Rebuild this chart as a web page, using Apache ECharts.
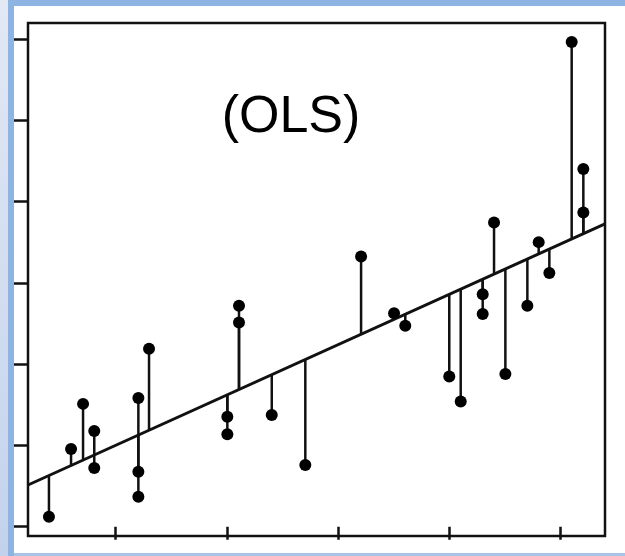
<!DOCTYPE html>
<html>
<head>
<meta charset="utf-8">
<script src="https://cdn.jsdelivr.net/npm/echarts@6/dist/echarts.min.js"></script>
<style>
html,body{margin:0;padding:0;background:#fff;}
#chart{width:625px;height:556px;}
</style>
</head>
<body>
<div id="chart"></div>
<script>
// ---- data (arbitrary units, no tick labels shown) ----
const titleText = '(OLS)';
const xTicks = [1, 2, 3, 4, 5];
const yTicks = [0, 1, 2, 3, 4, 5, 6];
const xRange = [0.2104, 5.405];
const yRange = [-0.1145, 6.197];
const pointX = [0.399, 0.598, 0.706, 0.807, 0.807, 1.204, 1.204, 1.204, 1.300,
                2.005, 2.005, 2.110, 2.110, 2.405, 2.707, 3.209, 3.506, 3.607,
                4.003, 4.106, 4.304, 4.304, 4.406, 4.508, 4.706, 4.808, 4.904,
                5.105, 5.210, 5.210];
const pointY = [0.123, 0.956, 1.511, 1.178, 0.723, 1.584, 0.677, 0.369, 2.188,
                1.354, 1.137, 2.717, 2.511, 1.375, 0.760, 3.324, 2.627, 2.471,
                1.847, 1.539, 2.861, 2.618, 3.742, 1.880, 2.717, 3.501, 3.120,
                5.963, 4.400, 3.866];
const fitX = [0.2104, 5.405];
const fitY = [0.513, 3.727];

const points = pointX.map((x, i) => [x, pointY[i]]);
const fitLine = fitX.map((x, i) => [x, fitY[i]]);
const fitAt = x => fitY[0] + (x - fitX[0]) * (fitY[1] - fitY[0]) / (fitX[1] - fitX[0]);

const chart = echarts.init(document.getElementById('chart'), null, {renderer: 'canvas'});
const ink = '#111';

chart.setOption({
  animation: false,
  backgroundColor: '#fff',
  grid: {left: 28, right: 20, top: 23, bottom: 20, show: true,
         borderColor: ink, borderWidth: 2.5, backgroundColor: '#fff'},
  xAxis: {
    type: 'value', min: xRange[0], max: xRange[1],
    splitLine: {show: false},
    axisLine: {show: false},
    axisLabel: {show: false},
    axisTick: {show: true, customValues: xTicks, length: 13, inside: false,
               lineStyle: {color: ink, width: 2.5}}
  },
  yAxis: {
    type: 'value', min: yRange[0], max: yRange[1],
    splitLine: {show: false},
    axisLine: {show: false},
    axisLabel: {show: false},
    axisTick: {show: true, customValues: yTicks, length: 14, inside: false,
               lineStyle: {color: ink, width: 2.5}}
  },
  graphic: [
    {type: 'rect', z: -10, shape: {x: 0, y: 0, width: 8, height: 556},
     style: {fill: new echarts.graphic.LinearGradient(0, 0, 0, 1, [
       {offset: 0, color: '#e2e8f4'}, {offset: 1, color: '#c3d2ec'}])}},
    {type: 'rect', z: -10, shape: {x: 8, y: 0, width: 6, height: 556}, style: {fill: '#8db4e3'}},
    {type: 'rect', z: -10, shape: {x: 8, y: 0, width: 617, height: 6}, style: {fill: '#8db4e3'}},
    {type: 'rect', z: -10, shape: {x: 14, y: 553, width: 611, height: 3}, style: {fill: '#aac4e8'}},
    {type: 'text', z: 10, x: 291, y: 118,
     style: {text: titleText, fill: '#000', font: '52px "Liberation Sans", Arial, sans-serif',
             textAlign: 'center', textVerticalAlign: 'middle'}}
  ],
  series: [
    {
      type: 'line', data: fitLine, symbol: 'none', silent: true, z: 2,
      lineStyle: {color: ink, width: 3}
    },
    {
      type: 'custom', z: 3, data: points,
      renderItem: function (params, api) {
        const x = api.value(0), y = api.value(1);
        const p1 = api.coord([x, y]);
        const p2 = api.coord([x, fitAt(x)]);
        return {type: 'line', shape: {x1: p1[0], y1: p1[1], x2: p2[0], y2: p2[1]},
                style: {stroke: ink, lineWidth: 2.5}};
      }
    },
    {
      type: 'scatter', data: points, symbolSize: 12, z: 4,
      itemStyle: {color: '#000', opacity: 1}
    }
  ]
});
</script>
</body>
</html>
